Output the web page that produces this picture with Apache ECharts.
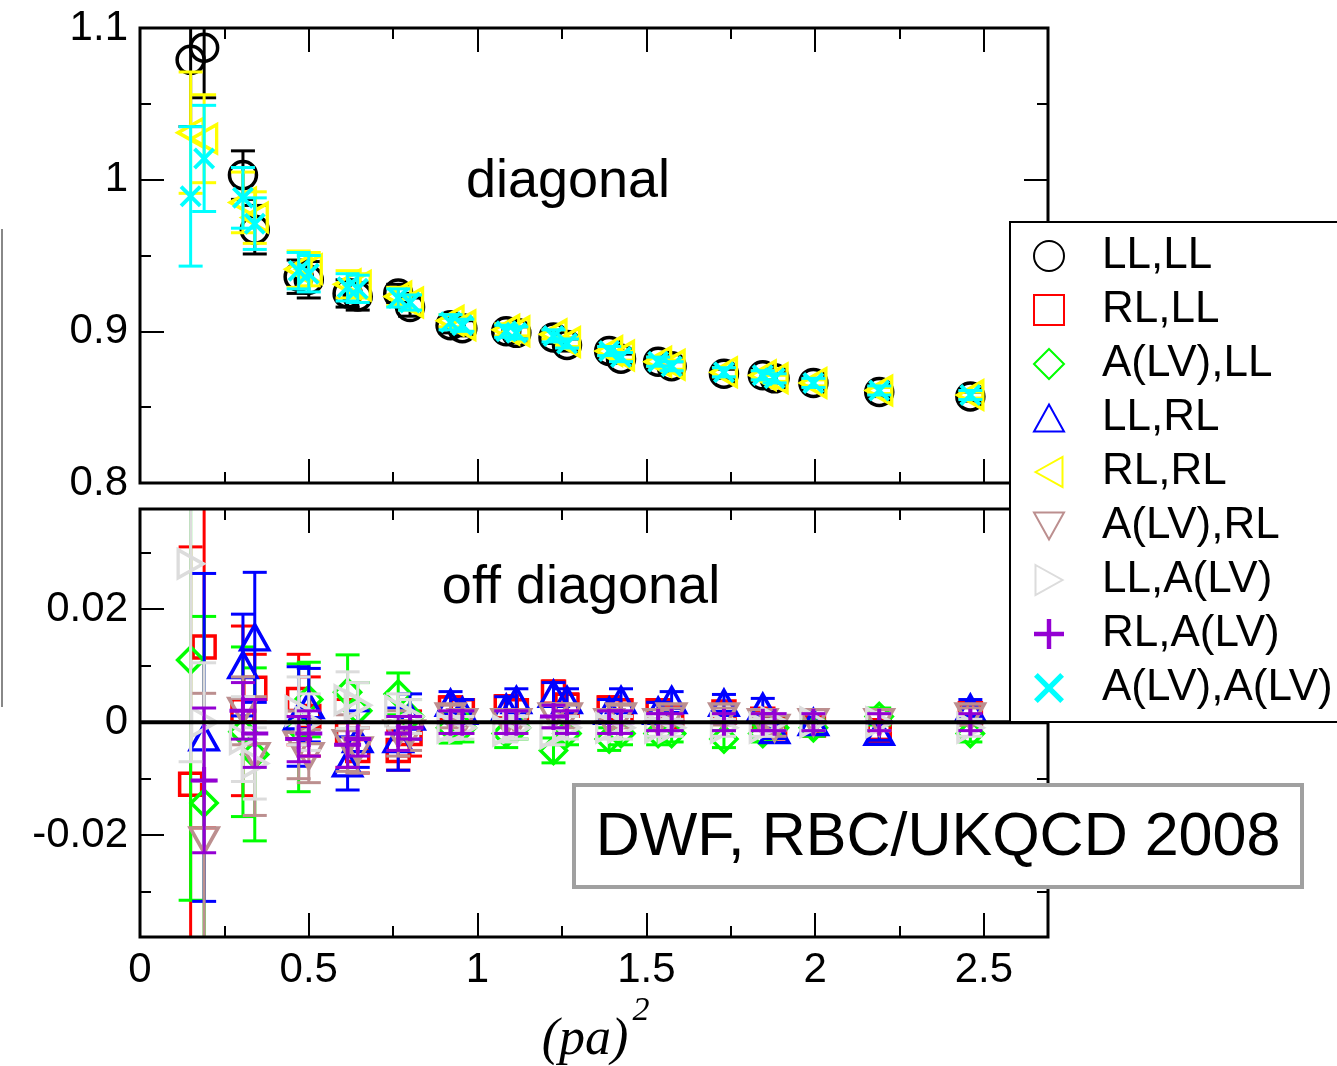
<!DOCTYPE html>
<html>
<head>
<meta charset="utf-8">
<script src="https://cdn.jsdelivr.net/npm/echarts@6/dist/echarts.min.js"></script>
<style>
html,body{margin:0;padding:0;background:#fff;}
#c{width:1337px;height:1066px;}
</style>
</head>
<body>
<div id="c"></div>
<script>
// ---- data ----
const X = [0.15, 0.19, 0.305, 0.34, 0.47, 0.50, 0.615, 0.645, 0.765, 0.80, 0.92, 0.955, 1.085, 1.115, 1.225, 1.265, 1.39, 1.425, 1.535, 1.575, 1.73, 1.845, 1.88, 1.995, 2.19, 2.46];

// diagonal (top panel)
const LL_LL     = [1.079, 1.087, 1.003, 0.967, 0.936, 0.934, 0.925, 0.923, 0.925, 0.916, 0.904, 0.902, 0.900, 0.899, 0.896, 0.891, 0.887, 0.882, 0.880, 0.877, 0.872, 0.871, 0.869, 0.866, 0.860, 0.857];
const LL_LL_err = [0.044, 0.033, 0.016, 0.016, 0.011, 0.012, 0.009, 0.009, 0.006, 0.006, 0.005, 0.005, 0.004, 0.004, 0.004, 0.004, 0.003, 0.003, 0.003, 0.003, 0.003, 0.003, 0.003, 0.003, 0.003, 0.003];
const RL_RL     = [1.031, 1.027, 0.985, 0.975, 0.941, 0.941, 0.931, 0.930, 0.923, 0.919, 0.907, 0.904, 0.901, 0.900, 0.898, 0.893, 0.887, 0.884, 0.880, 0.878, 0.873, 0.871, 0.869, 0.866, 0.861, 0.858];
const RL_RL_err = [0.040, 0.029, 0.020, 0.017, 0.012, 0.011, 0.009, 0.008, 0.006, 0.005, 0.004, 0.004, 0.004, 0.003, 0.003, 0.003, 0.003, 0.003, 0.003, 0.003, 0.003, 0.003, 0.002, 0.002, 0.002, 0.002];
const ALV_ALV     = [0.989, 1.014, 0.988, 0.971, 0.940, 0.938, 0.929, 0.928, 0.922, 0.919, 0.906, 0.904, 0.900, 0.899, 0.897, 0.892, 0.887, 0.883, 0.880, 0.877, 0.873, 0.871, 0.869, 0.866, 0.861, 0.858];
const ALV_ALV_err = [0.046, 0.035, 0.020, 0.017, 0.012, 0.012, 0.009, 0.009, 0.006, 0.005, 0.005, 0.004, 0.004, 0.004, 0.004, 0.003, 0.003, 0.003, 0.003, 0.003, 0.003, 0.003, 0.003, 0.003, 0.003, 0.003];

// off diagonal (bottom panel)
const RL_LL     = [-0.011, 0.0133, 0.002, 0.006, 0.004, 0.001, -0.002, -0.005, -0.005, -0.002, 0.0025, 0.002, 0.0027, 0.002, 0.0053, 0.003, 0.0025, 0.002, 0.002, 0.001, 0.0018, 0.0005, -0.001, -0.0005, -0.0015, 0.0015];
const RL_LL_err = [0.042, 0.032, 0.015, 0.006, 0.008, 0.007, 0.006, 0.004, 0.0035, 0.004, 0.002, 0.002, 0.002, 0.002, 0.002, 0.002, 0.002, 0.002, 0.0015, 0.0015, 0.0015, 0.0015, 0.0015, 0.0015, 0.0015, 0.0015];
const ALV_LL     = [0.011, -0.0143, -0.0017, -0.0057, -0.001, 0.004, 0.0053, 0.002, 0.005, 0.001, -0.001, -0.001, -0.002, -0.001, -0.005, -0.002, -0.003, -0.002, -0.002, -0.002, -0.003, -0.002, -0.001, -0.001, 0.001, -0.002];
const ALV_LL_err = [0.0425, 0.033, 0.015, 0.0153, 0.0113, 0.0066, 0.0066, 0.005, 0.0037, 0.003, 0.0027, 0.0025, 0.0025, 0.002, 0.0022, 0.002, 0.002, 0.002, 0.002, 0.0015, 0.0015, 0.0015, 0.0015, 0.0015, 0.0015, 0.0015];
const LL_RL     = [null, -0.0027, 0.0101, 0.015, 0.001, 0.003, -0.0073, -0.003, -0.003, 0.001, 0.0034, 0.002, 0.0025, 0.0039, 0.005, 0.0039, 0.002, 0.0039, 0.002, 0.0039, 0.0034, 0.0027, -0.0014, 0.0, -0.0017, 0.0025];
const LL_RL_err = [null, 0.029, 0.009, 0.0115, 0.0088, 0.0065, 0.0047, 0.005, 0.0055, 0.004, 0.002, 0.002, 0.002, 0.002, 0.002, 0.002, 0.002, 0.002, 0.0015, 0.0015, 0.0015, 0.0015, 0.0015, 0.0015, 0.0015, 0.0015];
const ALV_RL     = [null, -0.0209, 0.002, -0.006, -0.004, -0.006, -0.0037, -0.005, -0.002, -0.002, 0.001, 0.0, 0.0, 0.0, 0.001, 0.001, 0.0, 0.001, 0.0, 0.001, 0.001, 0.0, -0.001, 0.0, 0.0, 0.001];
const ALV_RL_err = [null, 0.026, 0.006, 0.0105, 0.006, 0.0047, 0.005, 0.004, 0.004, 0.003, 0.002, 0.002, 0.002, 0.002, 0.002, 0.002, 0.002, 0.002, 0.0015, 0.0015, 0.0015, 0.0015, 0.0015, 0.0015, 0.0015, 0.0015];
const LL_ALV     = [0.028, 0.0, -0.003, -0.0073, 0.002, 0.0, 0.0039, 0.003, 0.002, 0.001, -0.001, -0.001, -0.0015, -0.001, -0.002, -0.001, -0.001, -0.001, -0.001, -0.001, -0.001, -0.001, 0.0, 0.0, 0.0, -0.001];
const LL_ALV_err = [0.035, 0.0105, 0.0075, 0.0063, 0.006, 0.005, 0.005, 0.004, 0.003, 0.003, 0.002, 0.002, 0.002, 0.002, 0.002, 0.002, 0.002, 0.002, 0.0015, 0.0015, 0.0015, 0.0015, 0.0015, 0.0015, 0.0015, 0.0015];
const RL_ALV     = [null, -0.0103, 0.002, -0.002, -0.003, -0.002, -0.004, -0.003, -0.002, -0.001, 0.0, 0.0, 0.0, 0.0, 0.001, 0.0, 0.0, 0.0, 0.0, 0.0, 0.0, 0.0, 0.0, 0.0, 0.0, 0.0];
const RL_ALV_err = [null, 0.0128, 0.005, 0.006, 0.004, 0.004, 0.004, 0.003, 0.003, 0.002, 0.002, 0.002, 0.002, 0.002, 0.002, 0.002, 0.002, 0.002, 0.0015, 0.0015, 0.0015, 0.0015, 0.0015, 0.0015, 0.0015, 0.0015];

const NAMES = ['LL,LL', 'RL,LL', 'A(LV),LL', 'LL,RL', 'RL,RL', 'A(LV),RL', 'LL,A(LV)', 'RL,A(LV)', 'A(LV),A(LV)'];
const X_MAJOR = [0, 0.5, 1, 1.5, 2, 2.5];
const X_MINOR = [0.25, 0.75, 1.25, 1.75, 2.25];
const Y1_MAJOR = [0.8, 0.9, 1, 1.1];
const Y1_MINOR = [0.85, 0.95, 1.05];
const Y2_MAJOR = [-0.02, 0, 0.02];
const Y2_MINOR = [-0.03, -0.01, 0.01, 0.03];

// ---- styling ----
const FONT = 'Liberation Sans, Arial, Helvetica, sans-serif';
const SERIF = 'Liberation Serif, Times New Roman, serif';
const PLUS = 'path://M-2,-13.5 L2,-13.5 L2,-2 L13.5,-2 L13.5,2 L2,2 L2,13.5 L-2,13.5 L-2,2 L-13.5,2 L-13.5,-2 L-2,-2 Z';
const CROSS = 'path://M-10,-7.5 L-7.5,-10 L0,-2.5 L7.5,-10 L10,-7.5 L2.5,0 L10,7.5 L7.5,10 L0,2.5 L-7.5,10 L-10,7.5 L-2.5,0 Z';
const TRI_UP = 'path://M5,0 L10,9 L0,9 Z';
const TRI_LEFT = 'path://M0,5 L9,0 L9,10 Z';
const TRI_DOWN = 'path://M0,0 L10,0 L5,9 Z';
const TRI_RIGHT = 'path://M0,0 L9,5 L0,10 Z';

const XMAX = 2.69;
const Y1 = [0.8, 1.1];
const Y2 = [-0.038, 0.0377];

function xAxes(grid, labels) {
  const base = {type: 'value', gridIndex: grid, min: 0, max: XMAX, splitLine: {show: false},
    axisLine: {show: false, onZero: false}};
  const mk = (pos, len, vals, lab) => Object.assign({}, base, {
    position: pos,
    axisTick: {show: true, inside: true, length: len, lineStyle: {color: '#000', width: 2}, customValues: vals},
    axisLabel: lab ? {show: true, customValues: vals, fontSize: 42, fontFamily: FONT, color: '#000', margin: 12} : {show: false}
  });
  return [mk('bottom', 24, X_MAJOR, labels), mk('bottom', 11, X_MINOR, false),
          mk('top', 24, X_MAJOR, false), mk('top', 11, X_MINOR, false)];
}
function yAxes(grid, ext, major, minor) {
  const base = {type: 'value', gridIndex: grid, min: ext[0], max: ext[1], splitLine: {show: false},
    axisLine: {show: false, onZero: false}};
  const mk = (pos, len, vals, lab) => Object.assign({}, base, {
    position: pos,
    axisTick: {show: true, inside: true, length: len, lineStyle: {color: '#000', width: 2}, customValues: vals},
    axisLabel: lab ? {show: true, customValues: vals, fontSize: 42, fontFamily: FONT, color: '#000', margin: 12} : {show: false}
  });
  return [mk('left', 24, major, true), mk('left', 11, minor, false),
          mk('right', 24, major, false), mk('right', 11, minor, false)];
}

function points(vals, errs) {
  const out = [];
  for (let i = 0; i < X.length; i++) {
    if (vals[i] === null || vals[i] === undefined) continue;
    out.push([X[i], vals[i], errs[i]]);
  }
  return out;
}

function errSeries(name, pts, axIdx, color, z) {
  return {
    type: 'custom', name: name + ' err', xAxisIndex: axIdx.x, yAxisIndex: axIdx.y,
    data: pts, encode: {x: 0, y: 1}, silent: true, z: z,
    renderItem: function (params, api) {
      const cs = params.coordSys;
      const x = api.value(0), y = api.value(1), e = api.value(2);
      const pTop = api.coord([x, y + e]);
      const pBot = api.coord([x, y - e]);
      const top = Math.max(pTop[1], cs.y), bot = Math.min(pBot[1], cs.y + cs.height);
      const style = {stroke: color, lineWidth: 3};
      const ch = [];
      if (bot > top) ch.push({type: 'line', shape: {x1: pTop[0], y1: top, x2: pTop[0], y2: bot}, style: style});
      const hw = 12;
      if (pTop[1] >= cs.y && pTop[1] <= cs.y + cs.height)
        ch.push({type: 'line', shape: {x1: pTop[0] - hw, y1: pTop[1], x2: pTop[0] + hw, y2: pTop[1]}, style: style});
      if (pBot[1] >= cs.y && pBot[1] <= cs.y + cs.height)
        ch.push({type: 'line', shape: {x1: pBot[0] - hw, y1: pBot[1], x2: pBot[0] + hw, y2: pBot[1]}, style: style});
      return {type: 'group', children: ch};
    }
  };
}

function markSeries(name, pts, axIdx, color, symbol, size, filled, z) {
  return {
    type: 'scatter', name: name, xAxisIndex: axIdx.x, yAxisIndex: axIdx.y,
    data: pts.map(p => [p[0], p[1]]), symbol: symbol, symbolSize: size,
    clip: true, z: z, emphasis: {disabled: true},
    itemStyle: filled ? {color: color, opacity: 1} : {color: 'rgba(255,255,255,0)', borderColor: color, borderWidth: 3.5, opacity: 1}
  };
}

const TOP = {x: 0, y: 0};
const BOT = {x: 4, y: 4};

const specs = [
  // name, vals, errs, panel, color, symbol, size, filled
  ['LL,LL', LL_LL, LL_LL_err, TOP, '#000000', 'circle', 27, false],
  ['RL,LL', RL_LL, RL_LL_err, BOT, '#ff0000', 'rect', 22, false],
  ['A(LV),LL', ALV_LL, ALV_LL_err, BOT, '#00ff00', 'diamond', 26, false],
  ['LL,RL', LL_RL, LL_RL_err, BOT, '#0000ff', TRI_UP, [28, 25], false],
  ['RL,RL', RL_RL, RL_RL_err, TOP, '#ffff00', TRI_LEFT, [25, 28], false],
  ['A(LV),RL', ALV_RL, ALV_RL_err, BOT, '#bc8f8f', TRI_DOWN, [28, 25], false],
  ['LL,A(LV)', LL_ALV, LL_ALV_err, BOT, '#dcdcdc', TRI_RIGHT, [25, 28], false],
  ['RL,A(LV)', RL_ALV, RL_ALV_err, BOT, '#9400d3', PLUS, 27, true],
  ['A(LV),A(LV)', ALV_ALV, ALV_ALV_err, TOP, '#00ffff', CROSS, 22, true]
];

const series = [];
specs.forEach((s, i) => {
  const pts = points(s[1], s[2]);
  series.push(markSeries(s[0], pts, s[3], s[4], s[5], s[6], s[7], 10 + 2 * i + 1));
  series.push(errSeries(s[0], pts, s[3], s[4], 10 + 2 * i));
});
// zero line in the off-diagonal panel
series.push({
  type: 'line', name: 'zero', xAxisIndex: 4, yAxisIndex: 4, data: [[0, 0], [XMAX, 0]],
  symbol: 'none', silent: true, z: 40, lineStyle: {color: '#000', width: 4}
});

const chart = echarts.init(document.getElementById('c'), null, {renderer: 'canvas'});
chart.setOption({
  animation: false,
  backgroundColor: '#fff',
  grid: [
    {left: 140, top: 28, width: 908, height: 455, show: true, borderColor: '#000', borderWidth: 3, backgroundColor: 'transparent', z: 50},
    {left: 140, top: 509, width: 908, height: 428, show: true, borderColor: '#000', borderWidth: 3, backgroundColor: 'transparent', z: 50}
  ],
  xAxis: xAxes(0, false).concat(xAxes(1, true)),
  yAxis: yAxes(0, Y1, Y1_MAJOR, Y1_MINOR).concat(yAxes(1, Y2, Y2_MAJOR, Y2_MINOR)),
  legend: {
    data: NAMES, orient: 'vertical', left: 1010, top: 222, z: 60,
    padding: [12, 60, 12, 23], itemGap: 10, itemWidth: 30, itemHeight: 30,
    borderColor: '#000', borderWidth: 2, backgroundColor: '#fff', selectedMode: false,
    textStyle: {fontSize: 44, fontFamily: FONT, color: '#000', padding: [0, 0, 0, 33]}
  },
  graphic: [
    {type: 'text', x: 568, y: 182, z: 100, style: {text: 'diagonal', font: '54px ' + FONT, fill: '#000', textAlign: 'center', textVerticalAlign: 'middle'}},
    {type: 'text', x: 581, y: 588, z: 100, style: {text: 'off diagonal', font: '54px ' + FONT, fill: '#000', textAlign: 'center', textVerticalAlign: 'middle'}},
    {type: 'rect', z: 90, shape: {x: 574, y: 785, width: 728, height: 102}, style: {fill: '#fff', stroke: '#a0a0a0', lineWidth: 4}},
    {type: 'text', x: 938, y: 838, z: 100, style: {text: 'DWF, RBC/UKQCD 2008', font: '61px ' + FONT, fill: '#000', textAlign: 'center', textVerticalAlign: 'middle'}},
    {type: 'text', x: 585, y: 1040, z: 100, style: {text: '(pa)', font: 'italic 52px ' + SERIF, fill: '#000', textAlign: 'center', textVerticalAlign: 'middle'}},
    {type: 'text', x: 641, y: 1011, z: 100, style: {text: '2', font: 'italic 34px ' + SERIF, fill: '#000', textAlign: 'center', textVerticalAlign: 'middle'}},
    {type: 'line', z: 100, shape: {x1: 2, y1: 229, x2: 2, y2: 707}, style: {stroke: '#888', lineWidth: 2}}
  ],
  series: series
});
</script>
</body>
</html>
